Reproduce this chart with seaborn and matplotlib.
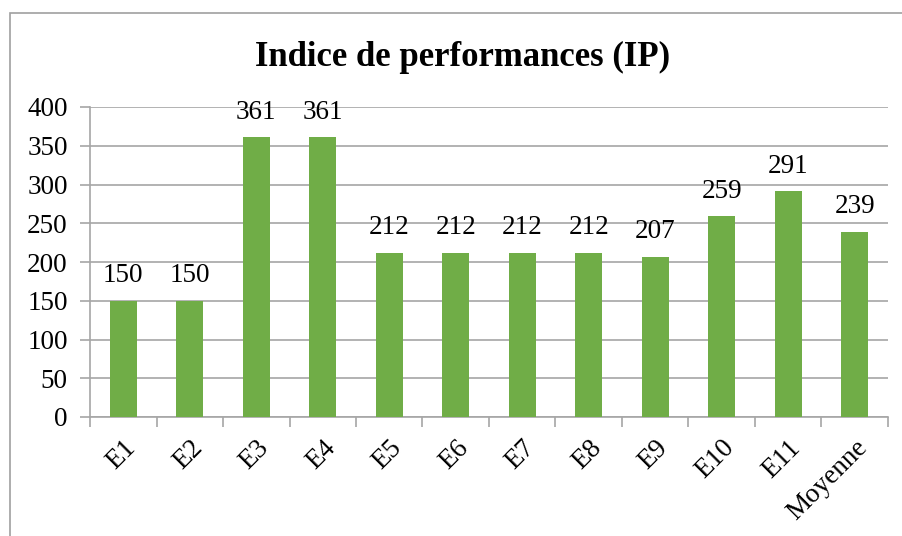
import pandas as pd
import matplotlib.pyplot as plt
import matplotlib.patches as mpatches
import seaborn as sns

categories = ["E1", "E2", "E3", "E4", "E5", "E6", "E7", "E8", "E9", "E10", "E11", "Moyenne"]
values = [150, 150, 361, 361, 212, 212, 212, 212, 207, 259, 291, 239]
yticks = [0, 50, 100, 150, 200, 250, 300, 350, 400]

sns.set_style("white")
plt.rcParams['font.family'] = ['Liberation Serif', 'DejaVu Serif']
plt.rcParams['text.color'] = 'black'
plt.rcParams['xtick.labelcolor'] = 'black'
plt.rcParams['ytick.labelcolor'] = 'black'

df = pd.DataFrame({"cat": categories, "val": values})

fig = plt.figure(figsize=(9.02, 5.36), dpi=100)
ax = fig.add_axes([90/902, 1-417/536, (888-90)/902, (417-107)/536])
sns.barplot(data=df, x="cat", y="val", color="#70AD47", width=0.4, saturation=1, ax=ax, zorder=3)
for b in ax.patches:
    b.set_edgecolor("none")
ax.bar_label(ax.containers[0], labels=[str(v) for v in values], padding=9, fontsize=19.5, color="black")

ax.set_ylim(0, 400)
ax.set_yticks(yticks)
ax.set_xlim(-0.5, len(categories) - 0.5)
ax.yaxis.grid(True, color="#a6a6a6", lw=1.2, zorder=0)
ax.set_axisbelow(True)
ax.set_xlabel("")
ax.set_ylabel("")
for s in ["top", "right"]:
    ax.spines[s].set_visible(False)
for s in ["left", "bottom"]:
    ax.spines[s].set_color("#a6a6a6")
    ax.spines[s].set_linewidth(1.2)

ax.set_xticks([i - 0.5 for i in range(len(categories) + 1)], minor=True)
ax.set_xticks(range(len(categories)))
ax.set_xticklabels(categories, rotation=45, ha="right", rotation_mode="anchor", fontsize=19.5)
ax.tick_params(axis="x", which="major", length=0, pad=13)
ax.tick_params(axis="x", which="minor", length=7, color="#a6a6a6", width=1.2, direction="out", bottom=True)
ax.tick_params(axis="y", length=7, color="#a6a6a6", width=1.2, direction="out", left=True, labelsize=19.5, pad=9)

fig.text(0.513, 1-57/536, "Indice de performances (IP)", ha="center", va="center",
         fontsize=25, fontweight="bold", color="black")
fig.patches.append(mpatches.Rectangle((10/902, -0.1), 1.2, 1.1 - 13/536, transform=fig.transFigure,
                                      fill=False, edgecolor="#a0a0a0", lw=1.2))

fig.savefig("out.png", dpi=100)
